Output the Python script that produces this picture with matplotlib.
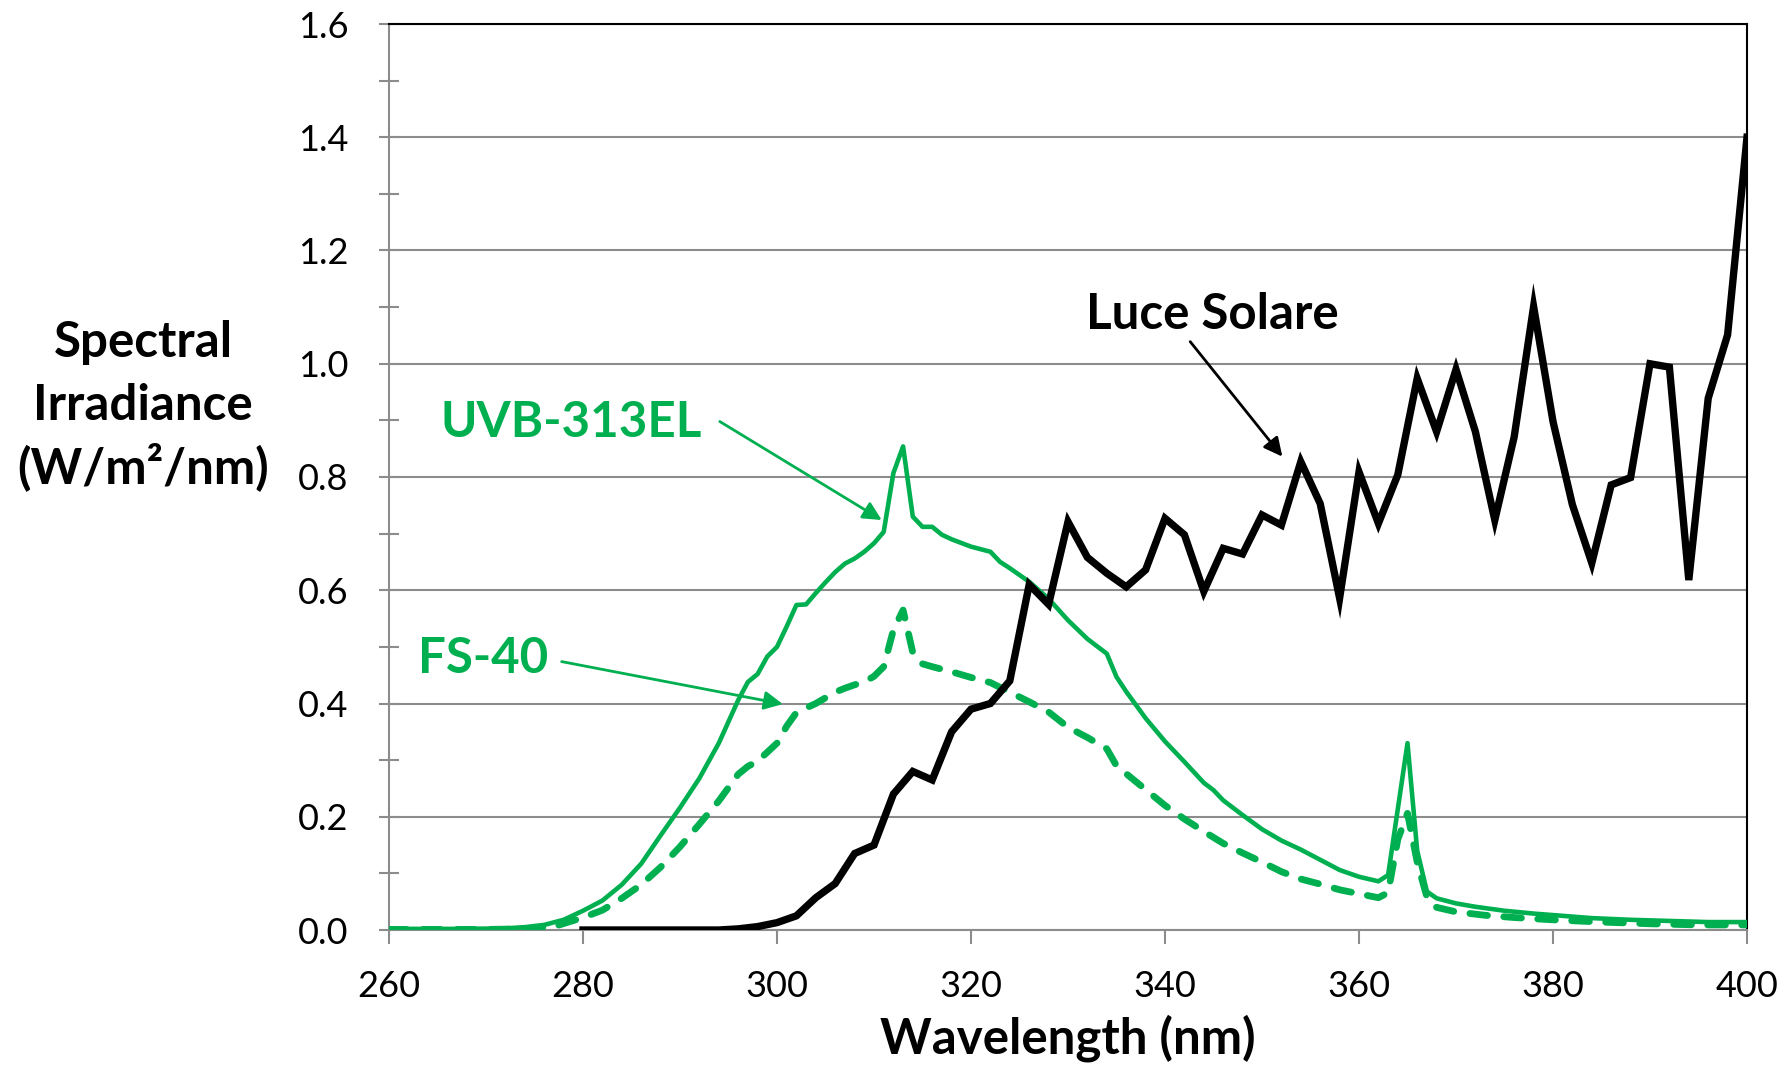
import matplotlib
matplotlib.use("Agg")
import matplotlib.pyplot as plt
from matplotlib.ticker import MultipleLocator, FormatStrFormatter

# sunlight (Luce Solare), 2 nm steps
sun_wl = list(range(280, 402, 2))
sun_val = [0.0, 0.0, 0.0, 0.0, 0.0, 0.0, 0.0, 0.0, 0.002, 0.006,
           0.013, 0.025, 0.057, 0.082, 0.135, 0.15, 0.24, 0.28, 0.265, 0.35,
           0.39, 0.40, 0.44, 0.61, 0.575, 0.721, 0.658, 0.63, 0.606, 0.636,
           0.727, 0.698, 0.598, 0.674, 0.664, 0.733, 0.715, 0.827, 0.753, 0.586,
           0.809, 0.718, 0.804, 0.974, 0.88, 0.99, 0.88, 0.724, 0.871, 1.101,
           0.898, 0.751, 0.648, 0.786, 0.799, 1.0, 0.994, 0.618, 0.939, 1.051,
           1.40]

# UVB-313EL lamp
uvb_wl = [260, 264, 268, 272, 274, 276, 278, 280, 282, 284, 286, 288, 290, 292,
          294, 296, 297, 298, 299, 300, 301, 302, 303, 304, 305, 306, 307, 308,
          309, 310, 311, 312, 313, 314, 315, 316, 317, 318, 320, 322, 323, 324,
          326, 328, 330, 332, 334, 335, 336, 338, 340, 342, 344, 345, 346, 348,
          350, 352, 354, 356, 358, 360, 362, 363, 365, 366, 367, 368, 370, 372,
          375, 378, 381, 384, 388, 392, 396, 400]
uvb_val = [0.002, 0.002, 0.002, 0.003, 0.005, 0.009, 0.018, 0.034, 0.052, 0.080,
           0.117, 0.167, 0.216, 0.268, 0.33, 0.406, 0.438, 0.452, 0.483, 0.50,
           0.536, 0.574, 0.575, 0.595, 0.614, 0.632, 0.647, 0.656, 0.668, 0.683,
           0.703, 0.807, 0.854, 0.73, 0.712, 0.712, 0.698, 0.69, 0.677, 0.668,
           0.650, 0.639, 0.615, 0.585, 0.547, 0.514, 0.488, 0.447, 0.421, 0.374,
           0.333, 0.297, 0.26, 0.247, 0.229, 0.203, 0.178, 0.158, 0.142, 0.124,
           0.106, 0.094, 0.086, 0.097, 0.33, 0.14, 0.068, 0.056, 0.047, 0.041,
           0.034, 0.029, 0.025, 0.021, 0.018, 0.016, 0.014, 0.014]

# FS-40 lamp
fs_wl = [260, 266, 270, 274, 277, 280, 282, 284, 286, 288, 290, 292, 294, 296,
         297, 298, 300, 301, 302, 303, 304, 305, 306, 307, 308, 309, 310, 311,
         312, 313, 314, 315, 316, 318, 320, 322, 324, 326, 328, 330, 332, 334,
         335, 336, 338, 340, 342, 344, 346, 348, 350, 352, 354, 356, 358, 360,
         362, 363, 364, 365, 366, 367, 368, 370, 373, 376, 380, 385, 390, 395, 400]
fs_val = [0.001, 0.001, 0.001, 0.002, 0.006, 0.022, 0.035, 0.056, 0.08, 0.111,
          0.147, 0.187, 0.228, 0.275, 0.289, 0.298, 0.33, 0.36, 0.384, 0.392,
          0.40, 0.41, 0.42, 0.427, 0.433, 0.438, 0.448, 0.465, 0.53, 0.565,
          0.49, 0.47, 0.465, 0.456, 0.446, 0.437, 0.42, 0.403, 0.385, 0.358,
          0.34, 0.32, 0.29, 0.276, 0.248, 0.22, 0.196, 0.174, 0.153, 0.136,
          0.12, 0.103, 0.09, 0.081, 0.071, 0.064, 0.057, 0.066, 0.16, 0.206,
          0.12, 0.058, 0.04, 0.032, 0.026, 0.022, 0.018, 0.014, 0.011, 0.009,
          0.009]

green = "#00B050"
gray = "#8c8c8c"

plt.rcParams['font.family'] = ['Lato', 'DejaVu Sans']

fig = plt.figure(figsize=(17.9, 10.68), dpi=100)
ax = fig.add_axes([389 / 1790, 1 - 930 / 1068, (1747 - 389) / 1790, (930 - 24) / 1068])

ax.plot(uvb_wl, uvb_val, color=green, lw=3.3, solid_joinstyle='round', zorder=3)
ax.plot(fs_wl, fs_val, color=green, lw=4.9, dashes=(2.6, 2.4),
        dash_capstyle='round', solid_joinstyle='round', zorder=3)
ax.plot(sun_wl, sun_val, color='black', lw=5.3, solid_joinstyle='miter', zorder=4)

ax.set_xlim(260, 400)
ax.set_ylim(0, 1.6)
ax.xaxis.set_major_locator(MultipleLocator(20))
ax.yaxis.set_major_locator(MultipleLocator(0.2))
ax.yaxis.set_minor_locator(MultipleLocator(0.1))
ax.yaxis.set_major_formatter(FormatStrFormatter('%.1f'))

ax.grid(axis='y', which='major', color=gray, lw=1.5)
ax.set_axisbelow(True)

for side in ['left', 'bottom']:
    ax.spines[side].set_color(gray)
    ax.spines[side].set_linewidth(1.5)
for side in ['top', 'right']:
    ax.spines[side].set_color('black')
    ax.spines[side].set_linewidth(1.5)

ax.tick_params(axis='y', which='both', direction='inout', length=14, width=1.5,
               color=gray, labelsize=26, pad=22)
ax.tick_params(axis='x', which='major', direction='out', length=10, width=1.5,
               color=gray, labelsize=26, pad=19)

ax.set_xlabel('Wavelength (nm)', fontsize=35.5, fontweight='bold', labelpad=8)

ylab_lines = ['Spectral', 'Irradiance', '(W/m²/nm)']
ylab_base = [357, 420, 483]
for txt, yb in zip(ylab_lines, ylab_base):
    fig.text(143 / 1790, 1 - yb / 1068, txt, ha='center', va='baseline',
             fontsize=35.5, fontweight='bold')

arrow_kw = dict(arrowstyle='-|>', mutation_scale=28, lw=2, shrinkA=0, shrinkB=0)

ax.annotate('', xy=(352.1, 0.836), xytext=(342.6, 1.039),
            arrowprops=dict(color='black', **arrow_kw), zorder=5)
ax.text(344.9, 1.061, 'Luce Solare', ha='center', va='baseline',
        fontsize=35.5, fontweight='bold', color='black')

ax.annotate('', xy=(310.8, 0.724), xytext=(294.1, 0.898),
            arrowprops=dict(color=green, **arrow_kw), zorder=5)
ax.text(278.8, 0.870, 'UVB-313EL', ha='center', va='baseline',
        fontsize=35.5, fontweight='bold', color=green)

ax.annotate('', xy=(300.6, 0.399), xytext=(277.8, 0.474),
            arrowprops=dict(color=green, **arrow_kw), zorder=5)
ax.text(269.7, 0.453, 'FS-40', ha='center', va='baseline',
        fontsize=35.5, fontweight='bold', color=green)

fig.savefig('out.png', dpi=100)
